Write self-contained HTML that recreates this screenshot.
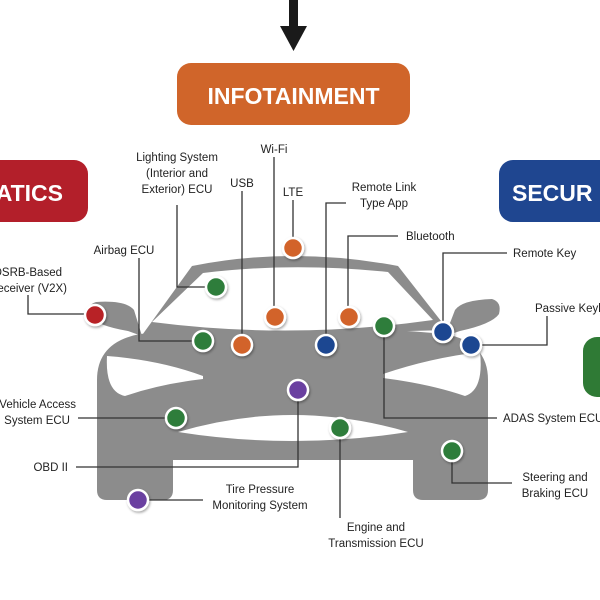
<!DOCTYPE html>
<html><head><meta charset="utf-8"><style>
html,body{margin:0;padding:0;background:#fff;}
svg{display:block;}
text{font-family:"Liberation Sans",sans-serif;fill:#222;font-size:11.5px;}
.b{font-weight:bold;fill:#fff;font-size:23px;}
</style></head><body>
<svg width="600" height="600" viewBox="0 0 600 600">
<defs><filter id="s" x="-50%" y="-50%" width="200%" height="200%"><feDropShadow dx="1" dy="1.5" stdDeviation="1.2" flood-opacity="0.35"/></filter></defs>
<!-- arrow -->
<rect x="289" y="0" width="9" height="27" fill="#1a1a1a"/>
<polygon points="280,26 307,26 293.5,51" fill="#1a1a1a"/>
<!-- boxes -->
<rect x="177" y="63" width="233" height="62" rx="14" fill="#d0652a"/>
<text class="b" x="293.5" y="104" text-anchor="middle">INFOTAINMENT</text>
<rect x="-30" y="160" width="118" height="62" rx="14" fill="#b31f2a"/>
<text class="b" x="63" y="201" text-anchor="end">ATICS</text>
<rect x="499" y="160" width="130" height="62" rx="14" fill="#1f4690"/>
<text class="b" x="512" y="201">SECUR</text>
<rect x="583" y="337" width="40" height="60" rx="14" fill="#2f7a35"/>
<!-- car -->
<g fill="#8c8c8c">
<path d="M140 338 L192 266 Q292 246 398 266 L448 330 Z"/>
<path d="M97 490 L97 380 Q97 342 140 334 Q292 320 445 334 Q488 342 488 380 L488 490 Q488 500 478 500 L423 500 Q413 500 413 490 L413 460 L173 460 L173 490 Q173 500 163 500 L107 500 Q97 500 97 490 Z"/>
<path d="M142 336 L134 310 Q126 300 96 302 Q85 306 89 316 Q98 326 128 331 Z"/>
<path d="M445 336 L455 310 Q462 300 492 299 Q502 302 499 314 Q492 324 460 331 Z"/>
</g>
<g fill="#fff">
<path d="M152 322 L203 273 Q292 262 388 272 L433 320 Q292 340 152 322 Z"/>
<path d="M107 356 Q160 360 203 376 L203 379 Q160 384 125 396 Q105 392 107 356 Z"/>
<path d="M480 352 Q430 358 383 374 L383 378 Q430 384 465 396 Q484 390 480 352 Z"/>
<path d="M178 432 Q292 398 408 432 Q292 450 178 432 Z"/>
</g>
<!-- lines -->
<g fill="none" stroke="#333" stroke-width="1.3">
<polyline points="177,205 177,287 216,287"/>
<polyline points="242,191 242,345"/>
<polyline points="274,157 274,317"/>
<polyline points="293,200 293,248"/>
<polyline points="346,203 326,203 326,345"/>
<polyline points="398,236 348,236 348,317"/>
<polyline points="507,253 443,253 443,332"/>
<polyline points="471,345 547,345 547,316"/>
<polyline points="384,326 384,418 497,418"/>
<polyline points="452,451 452,483 512,483"/>
<polyline points="340,428 340,518"/>
<polyline points="138,500 203,500"/>
<polyline points="298,390 298,467 76,467"/>
<polyline points="176,418 78,418"/>
<polyline points="139,258 139,341 203,341"/>
<polyline points="28,295 28,314 95,314"/>
</g>
<!-- dots -->
<g stroke="#fff" stroke-width="2.5" filter="url(#s)">
<circle cx="95" cy="315" r="10" fill="#b82025"/>
<circle cx="216" cy="287" r="10" fill="#2e7d3a"/>
<circle cx="203" cy="341" r="10" fill="#2e7d3a"/>
<circle cx="242" cy="345" r="10" fill="#d2642a"/>
<circle cx="275" cy="317" r="10" fill="#d2642a"/>
<circle cx="293" cy="248" r="10" fill="#d2642a"/>
<circle cx="349" cy="317" r="10" fill="#d2642a"/>
<circle cx="326" cy="345" r="10" fill="#1f4791"/>
<circle cx="384" cy="326" r="10" fill="#2e7d3a"/>
<circle cx="443" cy="332" r="10" fill="#1f4791"/>
<circle cx="471" cy="345" r="10" fill="#1f4791"/>
<circle cx="298" cy="390" r="10" fill="#6b3fa0"/>
<circle cx="176" cy="418" r="10" fill="#2e7d3a"/>
<circle cx="340" cy="428" r="10" fill="#2e7d3a"/>
<circle cx="452" cy="451" r="10" fill="#2e7d3a"/>
<circle cx="138" cy="500" r="10" fill="#6b3fa0"/>
</g>
<!-- labels -->
<text x="177" y="161" text-anchor="middle">Lighting System</text>
<text x="177" y="177" text-anchor="middle">(Interior and</text>
<text x="177" y="193" text-anchor="middle">Exterior) ECU</text>
<text x="242" y="187" text-anchor="middle">USB</text>
<text x="274" y="153" text-anchor="middle">Wi-Fi</text>
<text x="293" y="196" text-anchor="middle">LTE</text>
<text x="384" y="191" text-anchor="middle">Remote Link</text>
<text x="384" y="207" text-anchor="middle">Type App</text>
<text x="406" y="240">Bluetooth</text>
<text x="513" y="257">Remote Key</text>
<text x="535" y="312">Passive Keyless</text>
<text x="503" y="422">ADAS System ECU</text>
<text x="555" y="481" text-anchor="middle">Steering and</text>
<text x="555" y="497" text-anchor="middle">Braking ECU</text>
<text x="376" y="531" text-anchor="middle">Engine and</text>
<text x="376" y="547" text-anchor="middle">Transmission ECU</text>
<text x="260" y="493" text-anchor="middle">Tire Pressure</text>
<text x="260" y="509" text-anchor="middle">Monitoring System</text>
<text x="68" y="471" text-anchor="end">OBD II</text>
<text x="76" y="408" text-anchor="end">Vehicle Access</text>
<text x="70" y="424" text-anchor="end">System ECU</text>
<text x="124" y="254" text-anchor="middle">Airbag ECU</text>
<text x="62" y="276" text-anchor="end">DSRB-Based</text>
<text x="67" y="292" text-anchor="end">Receiver (V2X)</text>
</svg>
</body></html>
